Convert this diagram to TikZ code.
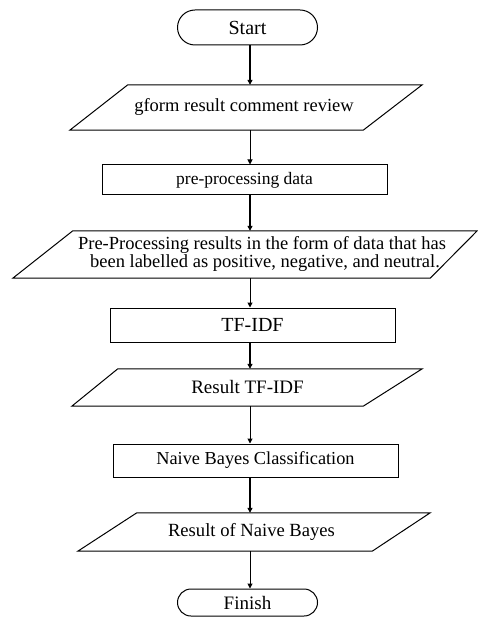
\documentclass[tikz,border=0pt]{standalone}
\usepackage{fontspec}
\setmainfont{Liberation Serif}
\usetikzlibrary{arrows.meta}
\begin{document}
\begin{tikzpicture}[x=1pt,y=-1pt,
  rectbox/.style={draw, line width=1pt, inner sep=0pt, align=center, minimum width=285pt},
  termbox/.style={draw, line width=1pt, inner sep=0pt, minimum width=140pt},
  slot/.style={inner sep=0pt},
  ptxt/.style={inner sep=0pt, align=center},
  pline/.style={line width=1pt, line join=miter},
  thickarr/.style={line width=1.6pt, -{Triangle[length=5pt,width=5pt]}},
  thinarr/.style={line width=1pt, -{Triangle[length=5pt,width=5pt]}},
  fnt/.style={font=\fontsize{#1}{#1}\selectfont}]
\useasboundingbox (0,0) rectangle (478,617);
\coordinate (ax) at (250,0);

% terminals
\node[termbox, rounded corners=17.5pt, minimum height=35pt, fnt=20] (start) at (247.5,27.5) {Start};
\node[termbox, rounded corners=13.5pt, minimum height=27pt, fnt=19] (finish) at (247.5,602.5) {Finish};

% parallelogram 1
\node[slot, minimum width=352pt, minimum height=45pt] (p1) at (246,107.5) {};
\draw[pline] ([xshift=58pt]p1.north west) -- (p1.north east) -- ([xshift=-59pt]p1.south east) -- (p1.south west) -- cycle;
\node[ptxt, fnt=18.5] (t1) at (244,107) {gform result comment review};

% rect pre-processing
\node[rectbox, minimum height=30pt, fnt=17.5] (pre) at (244.5,180) {pre-processing data};

% parallelogram 2
\node[slot, minimum width=464pt, minimum height=47pt] (p2) at (245,254.5) {};
\draw[pline] ([xshift=60pt]p2.north west) -- (p2.north east) -- ([xshift=-47pt]p2.south east) -- (p2.south west) -- cycle;
\node[inner sep=0pt, align=left, font=\fontsize{18.5}{15}\selectfont] (t2) at (262,254) {Pre-Processing results in the form of data that has\\\hspace*{12pt}been labelled as positive, negative, and neutral.};

% rect TF-IDF
\node[rectbox, minimum height=34pt, fnt=20] (tf) at (252.5,325) {TF-IDF};

% parallelogram 3
\node[slot, minimum width=350pt, minimum height=37pt] (p3) at (247,387.5) {};
\draw[pline] ([xshift=46pt]p3.north west) -- (p3.north east) -- ([xshift=-59pt]p3.south east) -- (p3.south west) -- cycle;
\node[ptxt, fnt=19] (t3) at (247.5,387) {Result TF-IDF};

% rect Naive Bayes
\node[rectbox, minimum height=33pt, fnt=18.3] (nb) at (255.5,460.5) {Naive Bayes Classification};

% parallelogram 4
\node[slot, minimum width=352pt, minimum height=38pt] (p4) at (254,532) {};
\draw[pline] ([xshift=59pt]p4.north west) -- (p4.north east) -- ([xshift=-58pt]p4.south east) -- (p4.south west) -- cycle;
\node[ptxt, fnt=18.6] (t4) at (251.5,532) {Result of Naive Bayes};

% connectors
\draw[thickarr] (start.south -| ax) -- (p1.north -| ax);
\draw[thinarr]  (p1.south -| ax) -- (pre.north -| ax);
\draw[thickarr] (pre.south -| ax) -- (p2.north -| ax);
\draw[thinarr]  (p2.south -| ax) -- (tf.north -| ax);
\draw[thickarr] (tf.south -| ax) -- (p3.north -| ax);
\draw[thinarr]  (p3.south -| ax) -- (nb.north -| ax);
\draw[thickarr] (nb.south -| ax) -- (p4.north -| ax);
\draw[thinarr]  (p4.south -| ax) -- (finish.north -| ax);
\end{tikzpicture}
\end{document}
